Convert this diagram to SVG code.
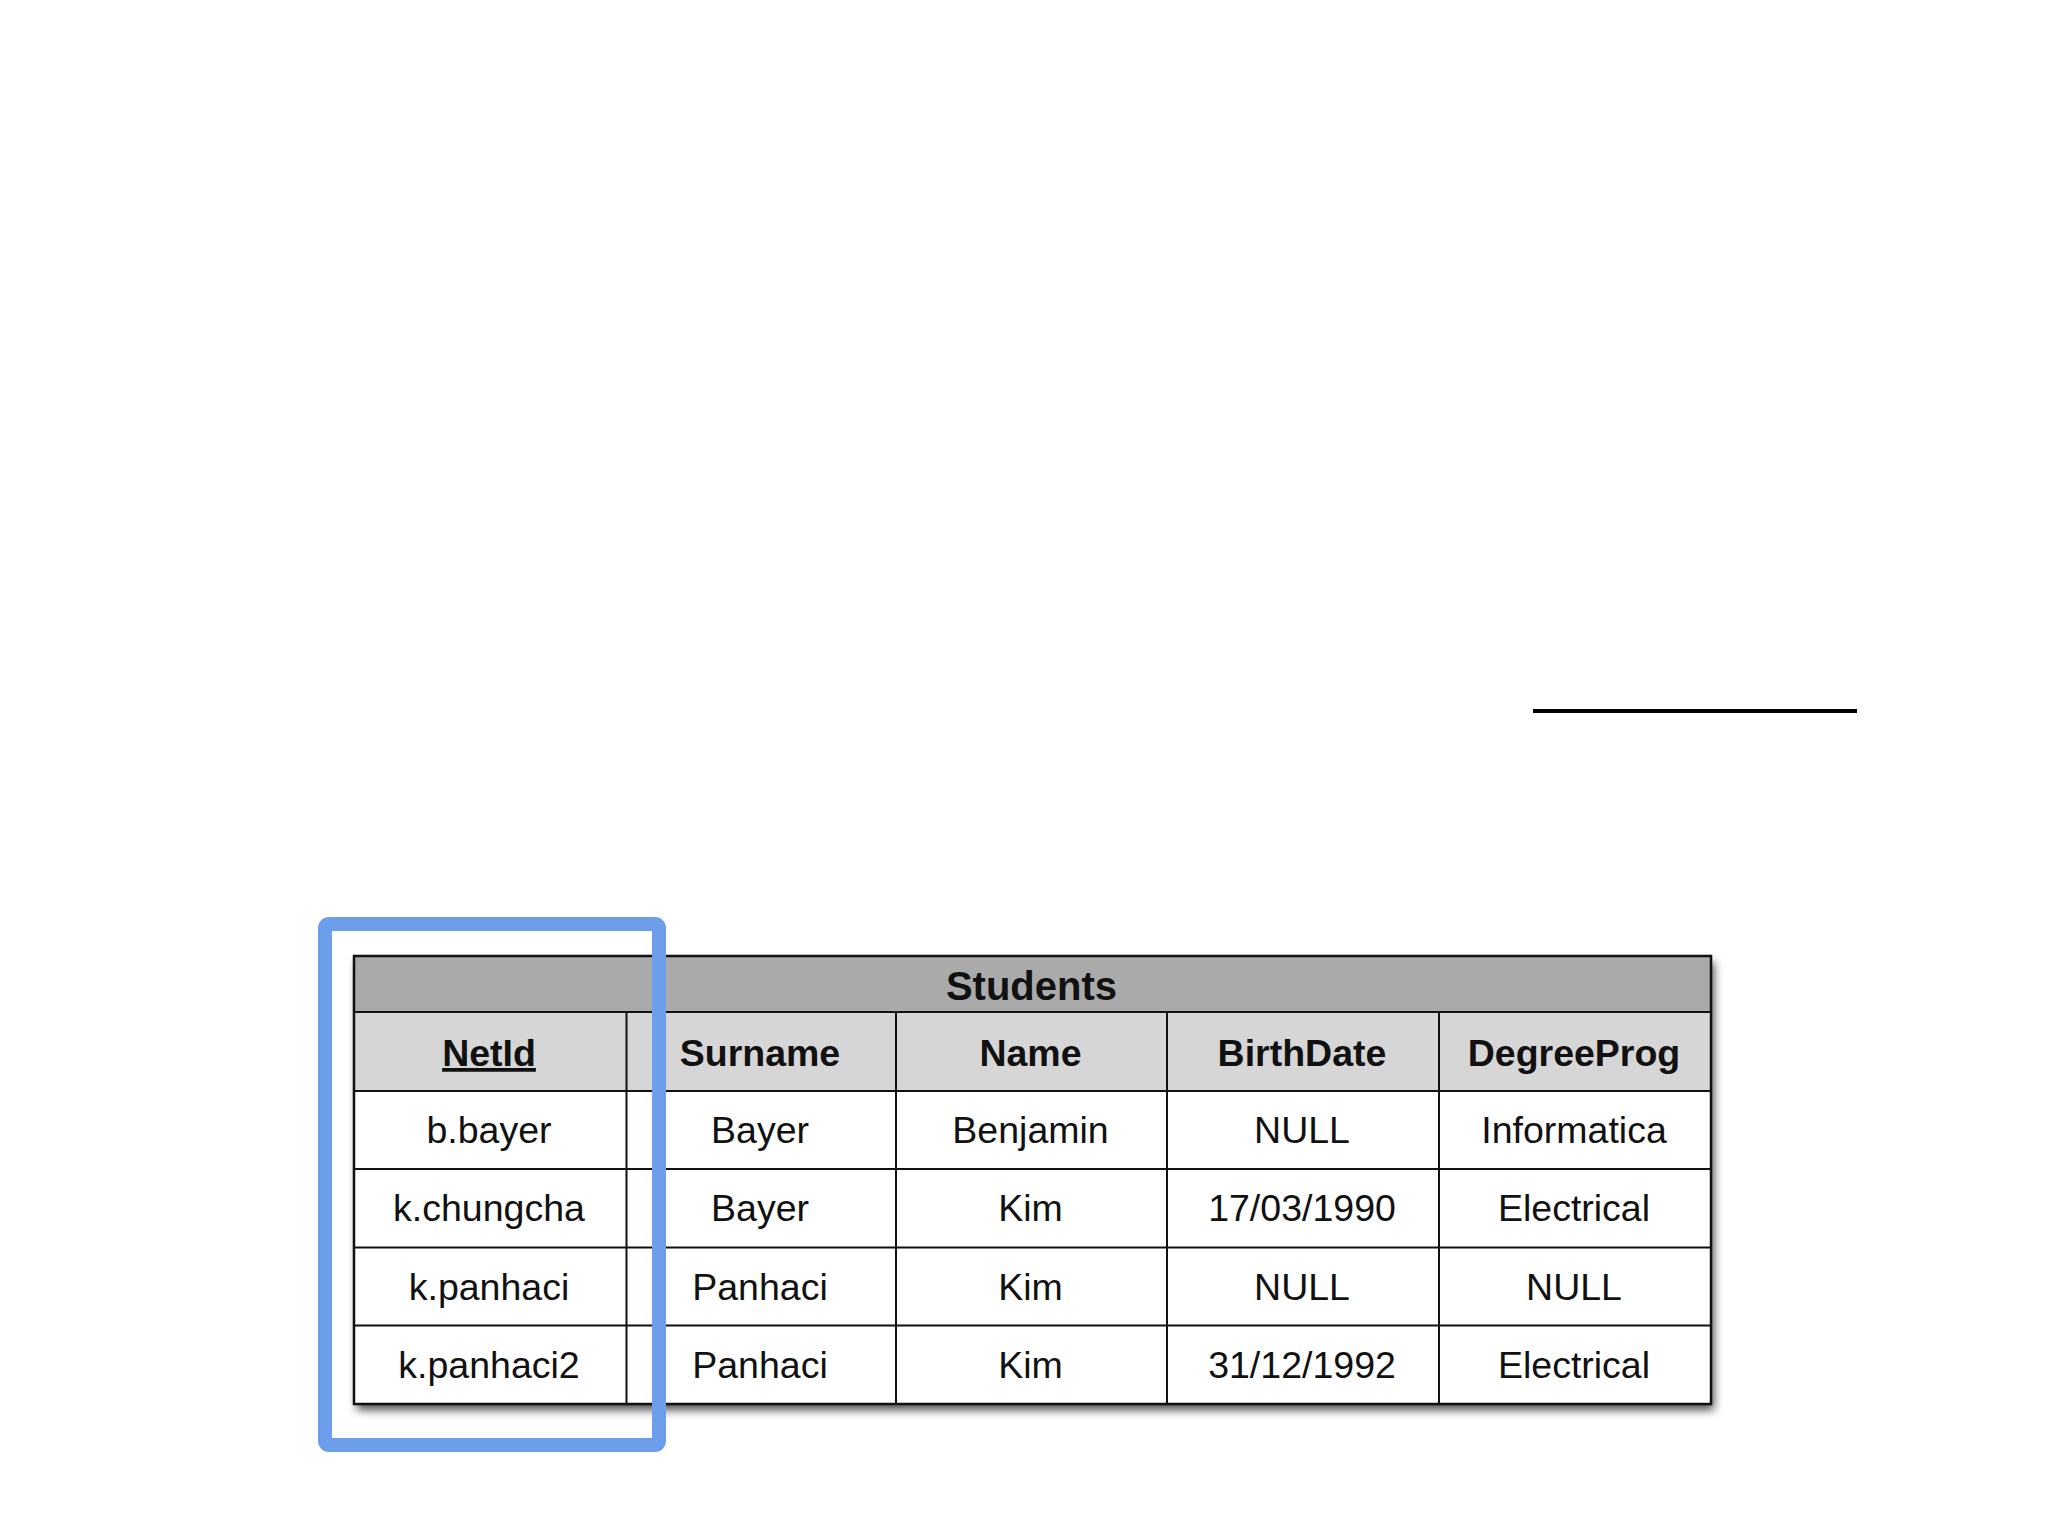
<svg xmlns="http://www.w3.org/2000/svg" width="2048" height="1536" viewBox="0 0 2048 1536">
  <defs>
    <filter id="shadow" x="-5%" y="-5%" width="112%" height="115%">
      <feDropShadow dx="3" dy="6" stdDeviation="5" flood-color="#000" flood-opacity="0.7"/>
    </filter>
  </defs>
  <style>
    .grid { stroke: #111; stroke-width: 2; fill: none; }
    .title { font-family: "Liberation Sans", Arial, sans-serif; font-weight: bold; font-size: 40px; fill: #111; text-anchor: middle; }
    .head { font-family: "Liberation Sans", Arial, sans-serif; font-weight: bold; font-size: 37.5px; fill: #111; text-anchor: middle; }
    .cell { font-family: "Liberation Sans", Arial, sans-serif; font-size: 37.5px; fill: #111; text-anchor: middle; }
  </style>
  <rect width="2048" height="1536" fill="#ffffff"/>

  <g id="rule">
    <line x1="1533" y1="711" x2="1857" y2="711" stroke="#000" stroke-width="4"/>
  </g>

  <g id="students-table">
    <rect x="354" y="956" width="1357" height="448" fill="#ffffff" filter="url(#shadow)"/>
    <rect x="354" y="956" width="1357" height="56" fill="#aaaaaa"/>
    <rect x="354" y="1012" width="1357" height="79" fill="#d6d6d6"/>
    <g class="grid">
      <line x1="354" y1="1012" x2="1711" y2="1012"/>
      <line x1="354" y1="1091" x2="1711" y2="1091"/>
      <line x1="354" y1="1169" x2="1711" y2="1169"/>
      <line x1="354" y1="1247.5" x2="1711" y2="1247.5"/>
      <line x1="354" y1="1325.5" x2="1711" y2="1325.5"/>
      <line x1="626.5" y1="1012" x2="626.5" y2="1404"/>
      <line x1="896" y1="1012" x2="896" y2="1404"/>
      <line x1="1167" y1="1012" x2="1167" y2="1404"/>
      <line x1="1439" y1="1012" x2="1439" y2="1404"/>
      <rect x="354" y="956" width="1357" height="448" stroke-width="2.5"/>
    </g>
    <text class="title" x="1031.5" y="1000">Students</text>
    <text class="head" x="489" y="1066" text-decoration="underline">NetId</text>
    <text class="head" x="760" y="1066">Surname</text>
    <text class="head" x="1030.5" y="1066">Name</text>
    <text class="head" x="1302" y="1066">BirthDate</text>
    <text class="head" x="1574" y="1066">DegreeProg</text>

    <text class="cell" x="489" y="1143">b.bayer</text>
    <text class="cell" x="760" y="1143">Bayer</text>
    <text class="cell" x="1030.5" y="1143">Benjamin</text>
    <text class="cell" x="1302" y="1143">NULL</text>
    <text class="cell" x="1574" y="1143">Informatica</text>

    <text class="cell" x="489" y="1221">k.chungcha</text>
    <text class="cell" x="760" y="1221">Bayer</text>
    <text class="cell" x="1030.5" y="1221">Kim</text>
    <text class="cell" x="1302" y="1221">17/03/1990</text>
    <text class="cell" x="1574" y="1221">Electrical</text>

    <text class="cell" x="489" y="1299.5">k.panhaci</text>
    <text class="cell" x="760" y="1299.5">Panhaci</text>
    <text class="cell" x="1030.5" y="1299.5">Kim</text>
    <text class="cell" x="1302" y="1299.5">NULL</text>
    <text class="cell" x="1574" y="1299.5">NULL</text>

    <text class="cell" x="489" y="1377.5">k.panhaci2</text>
    <text class="cell" x="760" y="1377.5">Panhaci</text>
    <text class="cell" x="1030.5" y="1377.5">Kim</text>
    <text class="cell" x="1302" y="1377.5">31/12/1992</text>
    <text class="cell" x="1574" y="1377.5">Electrical</text>
  </g>

  <g id="highlight">
    <rect x="325" y="924" width="334" height="521" rx="4" ry="4" fill="none" stroke="#6d9eeb" stroke-width="14"/>
  </g>
</svg>
